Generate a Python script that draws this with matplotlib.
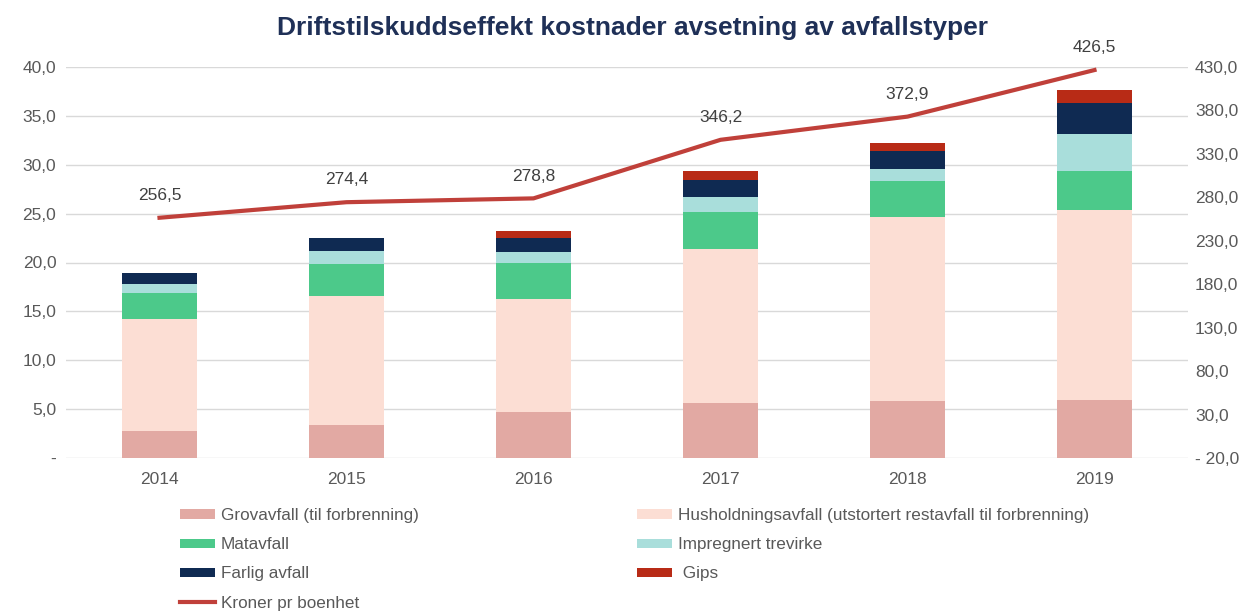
import numpy as np
import matplotlib
matplotlib.use("Agg")
import matplotlib.pyplot as plt
from matplotlib.ticker import FuncFormatter

plt.rcParams['font.family'] = ['Liberation Sans', 'DejaVu Sans']

years = ['2014', '2015', '2016', '2017', '2018', '2019']
grovavfall = [2.8, 3.35, 4.75, 5.6, 5.85, 5.95]
husholdning = [11.4, 13.2, 11.5, 15.75, 18.85, 19.4]
matavfall = [2.65, 3.3, 3.75, 3.85, 3.6, 4.0]
impregnert = [0.95, 1.35, 1.1, 1.45, 1.25, 3.8]
farlig = [1.1, 1.3, 1.4, 1.75, 1.9, 3.2]
gips = [0.0, 0.0, 0.7, 0.95, 0.75, 1.3]
kroner = [256.5, 274.4, 278.8, 346.2, 372.9, 426.5]

series = [
    ('Grovavfall (til forbrenning)', grovavfall, '#E2A9A3'),
    ('Husholdningsavfall (utstortert restavfall til forbrenning)', husholdning, '#FCDED4'),
    ('Matavfall', matavfall, '#4CC98A'),
    ('Impregnert trevirke', impregnert, '#A9DEDB'),
    ('Farlig avfall', farlig, '#0F2A52'),
    (' Gips', gips, '#B82B16'),
]
line_color = '#C0403A'
grid_color = '#D9D9D9'
text_color = '#595959'

fig = plt.figure(figsize=(12.6, 6.14), dpi=100)
ax = fig.add_axes([66/1260, 1 - 458/614, (1188 - 66)/1260, (458 - 67)/614])
ax2 = ax.twinx()

x = np.arange(len(years))
bottom = np.zeros(len(years))
handles = {}
for name, vals, col in series:
    b = ax.bar(x, vals, 0.4, bottom=bottom, color=col, label=name, zorder=2)
    handles[name] = b
    bottom += np.array(vals)

ln, = ax2.plot(x, kroner, color=line_color, lw=3, label='Kroner pr boenhet', zorder=3)
for xi, v in zip(x, kroner):
    ax2.annotate(f'{v:.1f}'.replace('.', ','), (xi, v), textcoords='offset points',
                 xytext=(0, 16), ha='center', va='center', fontsize=12.5, color='#404040')

ax.set_xlim(-0.5, len(years) - 0.5)
ax.set_ylim(0, 40)
ax.set_yticks(np.arange(0, 41, 5))
ax.yaxis.set_major_formatter(FuncFormatter(lambda v, p: '-' if v == 0 else f'{v:.1f}'.replace('.', ',')))
ax2.set_ylim(-20, 430)
ax2.set_yticks(np.arange(-20, 431, 50))
ax2.yaxis.set_major_formatter(FuncFormatter(lambda v, p: f'- {abs(v):.1f}'.replace('.', ',') if v < 0 else f'{v:.1f}'.replace('.', ',')))

ax.set_xticks(x)
ax.set_xticklabels(years)
ax.grid(axis='y', color=grid_color, lw=1, zorder=0)
ax.set_axisbelow(True)
for a in (ax, ax2):
    for s in a.spines.values():
        s.set_visible(False)
    a.tick_params(length=0, labelsize=12.5, colors=text_color)
ax.tick_params(axis='y', pad=7)
ax.tick_params(axis='x', pad=10)
ax2.tick_params(axis='y', pad=5)

fig.text(0.502, 1 - 28/614, 'Driftstilskuddseffekt kostnader avsetning av avfallstyper',
         ha='center', va='center', fontsize=19, fontweight='bold', color='#1F3057')

order = ['Grovavfall (til forbrenning)', 'Matavfall', 'Farlig avfall', None,
         'Husholdningsavfall (utstortert restavfall til forbrenning)', 'Impregnert trevirke', ' Gips']
hl, lb = [], []
for n in order:
    if n is None:
        hl.append(ln)
        lb.append('Kroner pr boenhet')
    else:
        hl.append(handles[n])
        lb.append(n)
leg = fig.legend(hl, lb, loc='upper left', bbox_to_anchor=(180/1260, 1 - 508/614), ncol=2,
                 frameon=False, fontsize=12.3, handlelength=2.05, handleheight=0.45,
                 handletextpad=0.35, columnspacing=12.75, labelspacing=0.83,
                 borderaxespad=0, borderpad=0)
for t in leg.get_texts():
    t.set_color(text_color)

fig.savefig('out.png', dpi=100)
